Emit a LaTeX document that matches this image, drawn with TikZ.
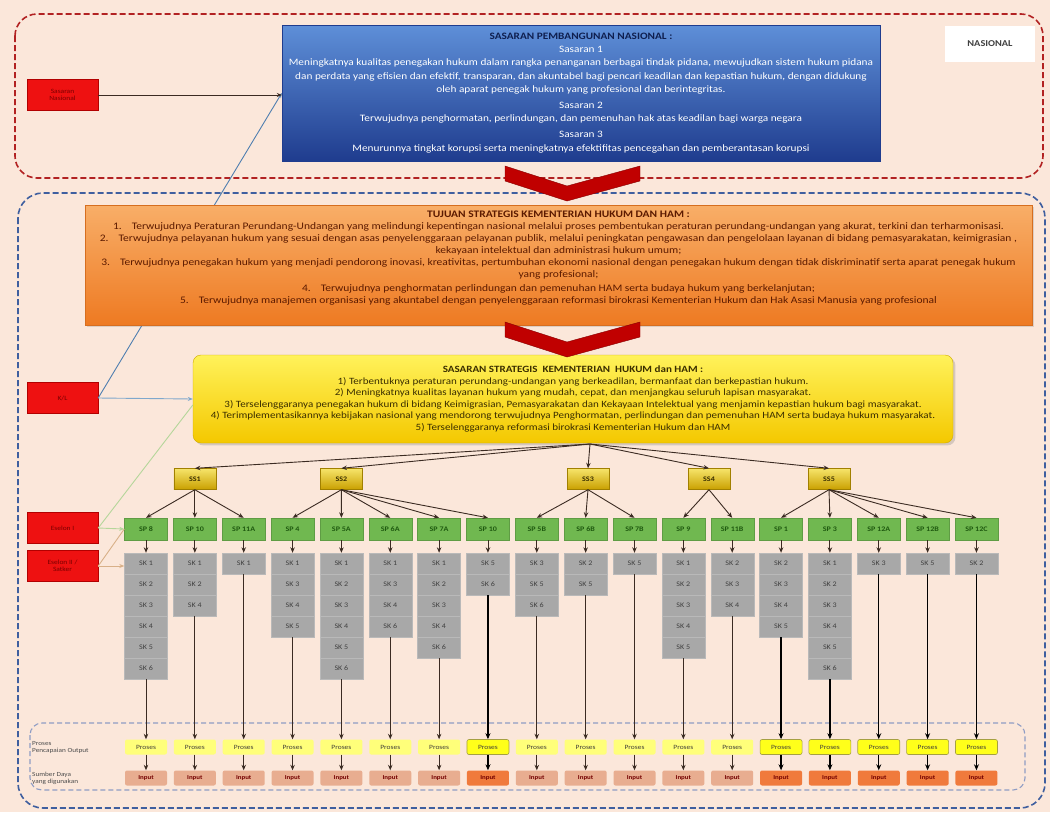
\documentclass[tikz,border=0pt]{standalone}
\usepackage{fontspec}
\setmainfont{Carlito}[FakeStretch=1.15]
\usetikzlibrary{arrows.meta,shadows,calc}
\definecolor{bgc}{HTML}{FBE7DA}
\definecolor{reddash}{HTML}{B22222}
\definecolor{bluedash}{HTML}{3F5F9F}
\definecolor{innerdash}{HTML}{8E9CC4}
\definecolor{navy}{HTML}{0F1F4F}
\definecolor{otext}{HTML}{5C1A00}
\definecolor{ytext}{HTML}{3A2E00}
\definecolor{lblred}{HTML}{EE1111}
\definecolor{lbltext}{HTML}{7A0000}
\definecolor{spgreen}{HTML}{70B850}
\definecolor{sptext}{HTML}{1F5A10}
\definecolor{skgray}{HTML}{A8A8A8}
\definecolor{prlight}{HTML}{FFFF7A}
\definecolor{prhot}{HTML}{FFFF1A}
\definecolor{inlight}{HTML}{E8AD90}
\definecolor{inhot}{HTML}{F07A3C}
\definecolor{arrc}{HTML}{3B2B22}
\definecolor{steelc}{HTML}{4F7FB0}
\definecolor{lsteel}{HTML}{7FA8CC}
\definecolor{lgreen}{HTML}{B5D69A}
\definecolor{tanc}{HTML}{D8B088}
\definecolor{chev}{HTML}{C00000}
\definecolor{bluetop}{HTML}{5E8FD8}
\definecolor{bluebot}{HTML}{1F3C8E}
\definecolor{ortop}{HTML}{F8AE68}
\definecolor{orbot}{HTML}{EE7A22}
\definecolor{ytop}{HTML}{FFF25A}
\definecolor{ybot}{HTML}{F4C800}
\definecolor{sstop}{HTML}{F6E46A}
\definecolor{ssbot}{HTML}{C9A000}
\begin{document}
\begin{tikzpicture}[x=1pt,y=-1pt,
  lbl/.style={fill=lblred, draw=red!70!black, minimum width=71pt, minimum height=31pt, inner sep=1pt, align=center, text=lbltext, font=\fontsize{6.5}{7.5}\selectfont},
  ssbox/.style={top color=sstop, bottom color=ssbot, draw=ssbot!80!black, minimum width=42pt, minimum height=21pt, inner sep=0pt, font=\bfseries\fontsize{7}{8}\selectfont, text=ytext},
  spbox/.style={fill=spgreen, draw=spgreen!85!black, minimum width=43pt, minimum height=22pt, inner sep=0pt, font=\bfseries\fontsize{7}{8}\selectfont, text=sptext},
  skbox/.style={fill=skgray, draw=skgray!80!white, minimum width=43pt, minimum height=21pt, inner sep=0pt, font=\fontsize{7}{8}\selectfont, text=black!75},
  prbox/.style={fill=#1, rounded corners=2pt, minimum width=42pt, minimum height=15pt, inner sep=0pt, font=\fontsize{6.5}{7}\selectfont, text=black!70!yellow!50!black},
  inbox/.style={fill=#1, rounded corners=2pt, minimum width=42pt, minimum height=15pt, inner sep=0pt, font=\bfseries\fontsize{6}{7}\selectfont, text=red!45!black},
  arr/.style={draw=arrc, line width=0.9pt, -{Stealth[length=5.5pt,width=4.5pt]}},
  hotarr/.style={draw=black, line width=1.3pt, -{Stealth[length=6pt,width=5pt]}},
  chevron/.style={fill=chev, draw=chev!70!black, line width=0.4pt},
]
\useasboundingbox (0,0) rectangle (1050,812);
\fill[bgc] (0,0) rectangle (1050,812);

% regions
\draw[reddash, line width=1.6pt, dash pattern=on 6pt off 3pt, rounded corners=22pt] (15,14) rectangle (1043,178);
\draw[bluedash, line width=1.6pt, dash pattern=on 6pt off 3pt, rounded corners=25pt] (18,193) rectangle (1045,808);
\draw[innerdash, line width=1.1pt, dash pattern=on 5pt off 3pt, rounded corners=12pt] (30,723) rectangle (1025,790);

\node[fill=white, minimum width=90pt, minimum height=36pt, font=\bfseries\fontsize{9}{10}\selectfont, text=black!75] (nas) at (990,44) {NASIONAL};

% left labels
\node[lbl] (lblA) at (62.5,95) {Sasaran\\Nasional};
\node[lbl] (lblB) at (62.5,398) {K/L};
\node[lbl] (lblC) at (62.5,528) {Eselon I};
\node[lbl] (lblD) at (62.5,566) {Eselon II /\\Satker};

% blue national box
\node[top color=bluetop, bottom color=bluebot, draw=bluebot, minimum width=598pt, minimum height=136pt, inner sep=2pt, align=center, text=white, font=\fontsize{9.8}{13.2}\selectfont] (nat) at (581,93)
{{\color{navy}\bfseries SASARAN PEMBANGUNAN NASIONAL :}\\
Sasaran 1\\
Meningkatnya kualitas penegakan hukum dalam rangka penanganan berbagai tindak pidana, mewujudkan sistem hukum pidana\\
dan perdata yang efisien dan efektif, transparan, dan akuntabel bagi pencari keadilan dan kepastian hukum, dengan didukung\\
oleh aparat penegak hukum yang profesional dan berintegritas.\\[3pt]
Sasaran 2\\
Terwujudnya penghormatan, perlindungan, dan pemenuhan hak atas keadilan bagi warga negara\\[3pt]
Sasaran 3\\
Menurunnya tingkat korupsi serta meningkatnya efektifitas pencegahan dan pemberantasan korupsi};

% line from K/L to national box (behind orange box)
\draw[steelc, line width=0.9pt, -{Stealth[length=5pt,width=4pt]}] (lblB.east) -- (nat.west);
\draw[arrc, line width=0.9pt, -{Stealth[length=5pt,width=4pt]}] (lblA.east) -- (lblA.east -| nat.west);

% orange box
\node[top color=ortop, bottom color=orbot, draw=orbot!90!black, minimum width=947pt, minimum height=120pt, inner sep=2pt, align=center, text=otext, font=\fontsize{10}{12}\selectfont, drop shadow={opacity=0.25}] (tuj) at (558.5,265)
{{\bfseries TUJUAN STRATEGIS KEMENTERIAN HUKUM DAN HAM :}\\
1.\quad Terwujudnya Peraturan Perundang-Undangan yang melindungi kepentingan nasional melalui proses pembentukan peraturan perundang-undangan yang akurat, terkini dan terharmonisasi.\\
2.\quad Terwujudnya pelayanan hukum yang sesuai dengan asas penyelenggaraan pelayanan publik, melalui peningkatan pengawasan dan pengelolaan layanan di bidang pemasyarakatan, keimigrasian ,\\
kekayaan intelektual dan administrasi hukum umum;\\
3.\quad Terwujudnya penegakan hukum yang menjadi pendorong inovasi, kreativitas, pertumbuhan ekonomi nasional dengan penegakan hukum dengan tidak diskriminatif serta aparat penegak hukum\\
yang profesional;\\[2pt]
4.\quad Terwujudnya penghormatan perlindungan dan pemenuhan HAM serta budaya hukum yang berkelanjutan;\\
5.\quad Terwujudnya manajemen organisasi yang akuntabel dengan penyelenggaraan reformasi birokrasi Kementerian Hukum dan Hak Asasi Manusia yang profesional\\[4pt]
~};

% yellow box
\node[top color=ytop, bottom color=ybot, draw=ybot!85!black, rounded corners=8pt, minimum width=760pt, minimum height=88pt, inner sep=2pt, align=center, text=ytext, font=\fontsize{9.6}{11.6}\selectfont, drop shadow={opacity=0.3}] (sas) at (573,399)
{{\bfseries SASARAN STRATEGIS\ \ KEMENTERIAN\ \ HUKUM dan HAM :}\\
1) Terbentuknya peraturan perundang-undangan yang berkeadilan, bermanfaat dan berkepastian hukum.\\
2) Meningkatnya kualitas layanan hukum yang mudah, cepat, dan menjangkau seluruh lapisan masyarakat.\\
3) Terselenggaranya penegakan hukum di bidang Keimigrasian, Pemasyarakatan dan Kekayaan Intelektual yang menjamin kepastian hukum bagi masyarakat.\\
4) Terimplementasikannya kebijakan nasional yang mendorong terwujudnya Penghormatan, perlindungan dan pemenuhan HAM serta budaya hukum masyarakat.\\
5) Terselenggaranya reformasi birokrasi Kementerian Hukum dan HAM};

% chevrons
\filldraw[chevron] (505,166) -- (567,186) -- (640,166) -- (640,181) -- (567,201) -- (505,181) -- cycle;
\filldraw[chevron] (505,322) -- (567,342) -- (640,322) -- (640,337) -- (567,357) -- (505,337) -- cycle;

% columns
\foreach \i/\sp/\sks/\n/\hot in {
 1/SP 8/{1,2,3,4,5,6}/6/0,
 2/SP 10/{1,2,4}/3/0,
 3/SP 11A/{1}/1/0,
 4/SP 4/{1,3,4,5}/4/0,
 5/SP 5A/{1,2,3,4,5,6}/6/0,
 6/SP 6A/{1,3,4,6}/4/0,
 7/SP 7A/{1,2,3,4,6}/5/0,
 8/SP 10/{5,6}/2/1,
 9/SP 5B/{3,5,6}/3/0,
 10/SP 6B/{2,5}/2/0,
 11/SP 7B/{5}/1/0,
 12/SP 9/{1,2,3,4,5}/5/0,
 13/SP 11B/{2,3,4}/3/0,
 14/SP 1/{2,3,4,5}/4/1,
 15/SP 3/{1,2,3,4,5,6}/6/1,
 16/SP 12A/{3}/1/1,
 17/SP 12B/{5}/1/1,
 18/SP 12C/{2}/1/1}{
  \pgfmathsetmacro\cx{146+48.85*(\i-1)}
  \node[spbox] (sp\i) at (\cx,529) {\sp};
  \foreach \k [count=\r] in \sks {
    \node[skbox] (sk\i-\r) at (\cx,{563.5+21*(\r-1)}) {SK \k};
  }
  \draw[arr] (sp\i) -- (sk\i-1);
  \ifnum\hot=1
    \node[prbox=prhot, draw=yellow!60!black, line width=0.6pt] (pr\i) at (\cx,747) {Proses};
    \node[inbox=inhot] (in\i) at (\cx,778) {Input};
    \draw[hotarr] (sk\i-\n.south) -- (pr\i.north);
    \draw[hotarr] (pr\i) -- (in\i);
  \else
    \node[prbox=prlight] (pr\i) at (\cx,747) {Proses};
    \node[inbox=inlight] (in\i) at (\cx,778) {Input};
    \draw[arr] (sk\i-\n.south) -- (pr\i.north);
    \draw[arr] (pr\i) -- (in\i);
  \fi
}

% SS boxes
\node[ssbox] (ss1) at (194.85,479) {SS1};
\node[ssbox] (ss2) at (341.4,479) {SS2};
\node[ssbox] (ss3) at (588,479) {SS3};
\node[ssbox] (ss4) at (709,479) {SS4};
\node[ssbox] (ss5) at (829,479) {SS5};

\coordinate (hub) at (590,444);
\foreach \s in {1,...,5} \draw[arr] (hub) -- (ss\s.north);

\foreach \s/\p in {1/1,1/2,1/3,2/4,2/5,2/6,2/7,2/8,3/9,3/10,3/11,4/12,4/13,5/14,5/15,5/16,5/17,5/18}
  \draw[arr] (ss\s.south) -- (sp\p.north);

% label connectors
\draw[lsteel, line width=0.9pt, -{Stealth[length=5pt,width=4pt]}] (lblB.east) -- (sas.west);
\draw[lgreen, line width=0.9pt] (lblC.east) -- ($(sas.west)+(0,6)$);
\draw[lgreen, line width=0.9pt, -{Stealth[length=5pt,width=4pt]}] (lblC.east) -- (sp1.west);
\draw[tanc, line width=0.9pt] (lblD.east) -- (sp1.west);
\draw[tanc, line width=0.9pt, -{Stealth[length=5pt,width=4pt]}] (lblD.east) -- (sk1-1.west |- lblD.east);

% bottom labels
\node[anchor=west, align=left, font=\fontsize{6.3}{7}\selectfont, text=black!70, inner sep=0pt] (lblP) at (32,747) {Proses\\Pencapaian Output};
\node[anchor=west, align=left, font=\fontsize{6.3}{7}\selectfont, text=black!70, inner sep=0pt] (lblS) at (32,778) {Sumber Daya\\yang digunakan};
\end{tikzpicture}
\end{document}
